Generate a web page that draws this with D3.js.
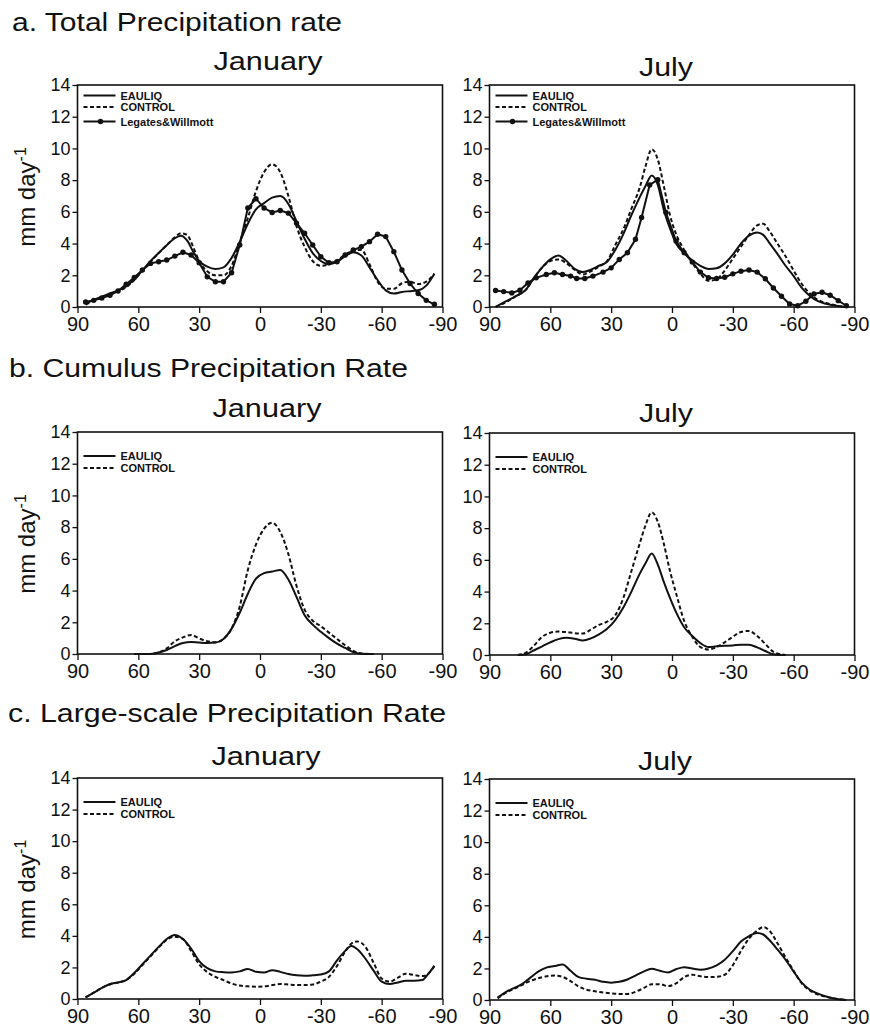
<!DOCTYPE html>
<html>
<head>
<meta charset="utf-8">
<script src="https://cdn.jsdelivr.net/npm/d3@7"></script>
<style>
  body { margin: 0; background: #fff; }
  svg { display: block; }
</style>
</head>
<body>
<svg id="chart" width="870" height="1027"></svg>
<script>
////////////////////////////////////////DATA//////////////////////////////////////////////////
const latTicks = [90, 60, 30, 0, -30, -60, -90];
const rateTicks = [0, 2, 4, 6, 8, 10, 12, 14];
const seriesNames = ["EAULIQ", "CONTROL", "Legates&Willmott"];

// a. total precipitation
const totJanLat = [86, 82, 78, 74, 70, 66, 62, 58, 54, 50, 46, 42, 39, 36, 33, 30, 26, 22, 18, 14, 10, 6, 2,
    -2, -6, -10, -14, -18, -22, -26, -30, -34, -38, -42, -46, -50, -54, -58, -62, -66, -70, -74, -78, -82, -86];
const totJanEauliq = [0.2, 0.45, 0.65, 0.85, 1.05, 1.3, 1.75, 2.3, 2.9, 3.4, 3.9, 4.35, 4.5, 4.2, 3.5, 2.9, 2.55, 2.4, 2.5, 3.1, 4.1, 5.25, 6.15,
    6.55, 6.9, 7.0, 6.5, 5.4, 4.3, 3.4, 2.9, 2.7, 2.85, 3.2, 3.45, 3.25, 2.5, 1.7, 1.05, 0.85, 0.95, 1.0, 1.05, 1.35, 2.1];
const totJanControl = [0.15, 0.4, 0.6, 0.8, 1.0, 1.25, 1.7, 2.3, 2.85, 3.4, 3.9, 4.4, 4.65, 4.55, 3.8, 2.9, 2.25, 2.0, 2.0, 2.6, 4.1, 5.6, 7.3,
    8.5, 9.0, 8.5, 7.0, 5.1, 3.8, 2.9, 2.6, 2.7, 2.95, 3.3, 3.55, 3.6, 2.7, 1.6, 1.15, 1.15, 1.5, 1.6, 1.45, 1.6, 2.1];
const totJanObsLat = [86, 82, 78, 74, 70, 66, 62, 58, 54, 50, 46, 42, 38, 34, 30, 26, 22, 18, 14, 10, 6, 2,
    -2, -6, -10, -14, -18, -22, -26, -30, -34, -38, -42, -46, -50, -54, -58, -62, -66, -70, -74, -78, -82, -86];
const totJanObs = [0.32, 0.42, 0.57, 0.74, 1.01, 1.44, 1.86, 2.33, 2.75, 2.85, 2.96, 3.21, 3.45, 3.28, 2.79, 1.9, 1.59, 1.59, 2.16, 3.91, 6.24, 6.83,
    6.24, 5.96, 6.09, 5.92, 5.29, 4.65, 3.91, 3.17, 2.79, 2.85, 3.28, 3.59, 3.81, 4.12, 4.59, 4.44, 3.49, 2.33, 1.48, 0.85, 0.42, 0.17];

const totJulLat = [87, 82, 77, 72, 68, 64, 60, 56, 52, 48, 44, 40, 36, 32, 28, 24, 20, 16, 13, 10, 7, 4, 1,
    -2, -6, -10, -14, -18, -22, -26, -30, -34, -38, -42, -45, -48, -52, -56, -60, -64, -68, -72, -76, -80, -86];
const totJulEauliq = [0, 0.35, 0.68, 1.1, 1.85, 2.5, 3.0, 3.25, 2.9, 2.4, 2.2, 2.35, 2.6, 2.85, 3.6, 4.6, 5.8, 6.9, 7.65, 8.3, 7.7, 6.1, 4.95,
    4.0, 3.4, 2.95, 2.6, 2.4, 2.45, 2.75, 3.3, 4.0, 4.5, 4.7, 4.55, 4.05, 3.35, 2.6, 1.95, 1.2, 0.7, 0.37, 0.2, 0.1, 0];
const totJulControl = [0, 0.3, 0.68, 1.1, 1.85, 2.5, 2.9, 3.0, 2.75, 2.35, 2.05, 2.25, 2.55, 2.9, 3.9, 4.9, 6.2, 7.5, 8.9, 9.95, 9.3, 7.6, 5.8,
    4.6, 3.6, 2.8, 2.1, 1.65, 1.75, 2.3, 3.05, 3.8, 4.55, 5.15, 5.25, 4.8, 4.0, 3.2, 2.3, 1.45, 0.85, 0.45, 0.25, 0.12, 0];
const totJulObsLat = [87, 83, 79, 75, 71, 67, 62, 58, 54, 50, 47, 43, 39, 34, 30, 26, 22, 18, 15, 11, 7, 3,
    -2, -6, -10, -14, -18, -22, -26, -30, -34, -38, -42, -46, -50, -54, -58, -62, -66, -70, -74, -78, -82, -86];
const totJulObs = [1.04, 0.97, 0.89, 1.06, 1.52, 1.84, 2.05, 2.16, 2.05, 1.95, 1.8, 1.8, 1.95, 2.2, 2.47, 3.0, 3.42, 4.27, 5.64, 7.7, 8.03, 5.96,
    4.16, 3.42, 2.83, 2.2, 1.84, 1.8, 1.88, 2.09, 2.26, 2.33, 2.2, 1.78, 1.2, 0.68, 0.19, 0.08, 0.36, 0.82, 0.93, 0.74, 0.4, 0.08];

// b. cumulus precipitation
const cuJanLat = [62, 55, 50, 46, 42, 38, 34, 30, 26, 22, 18, 14, 10, 6, 2,
    -2, -6, -10, -14, -18, -22, -26, -30, -34, -38, -42, -46, -50, -56];
const cuJanEauliq = [0, 0, 0.1, 0.25, 0.5, 0.7, 0.75, 0.72, 0.7, 0.72, 0.95, 1.6, 2.6, 3.8, 4.75,
    5.1, 5.2, 5.3, 4.7, 3.6, 2.45, 1.85, 1.4, 1.0, 0.65, 0.38, 0.12, 0.02, 0];
const cuJanControl = [0, 0, 0.1, 0.35, 0.8, 1.05, 1.2, 0.98, 0.8, 0.74, 0.95, 1.6, 3.0, 5.3, 6.9,
    7.9, 8.28, 7.7, 6.3, 4.3, 2.8, 2.1, 1.75, 1.35, 0.95, 0.55, 0.2, 0.03, 0];

const cuJulLat = [76, 72, 68, 64, 60, 56, 52, 48, 44, 40, 36, 32, 28, 24, 20, 16, 13, 10, 7, 4, 1,
    -2, -6, -10, -14, -18, -22, -26, -30, -34, -38, -42, -46, -50, -56];
const cuJulEauliq = [0, 0.05, 0.3, 0.55, 0.8, 1.0, 1.08, 1.02, 0.92, 1.05, 1.3, 1.65, 2.2, 3.0, 4.0, 5.1, 5.8, 6.4, 5.7, 4.6, 3.6,
    2.7, 1.75, 1.2, 0.75, 0.5, 0.55, 0.58, 0.6, 0.65, 0.65, 0.48, 0.25, 0.05, 0];
const cuJulControl = [0, 0.15, 0.6, 1.15, 1.4, 1.48, 1.45, 1.38, 1.35, 1.6, 1.9, 2.1, 2.5, 3.6, 5.3, 7.0, 8.2, 9.0, 8.4, 7.0, 5.3,
    3.9, 2.15, 1.15, 0.5, 0.35, 0.5, 0.8, 1.15, 1.45, 1.52, 1.2, 0.7, 0.2, 0];

// c. large-scale precipitation
const lsJanLat = [86, 82, 78, 74, 70, 66, 62, 58, 54, 50, 46, 42, 38, 34, 30, 26, 22, 18, 14, 10, 6, 2,
    -2, -6, -10, -14, -18, -22, -26, -30, -34, -38, -42, -45, -48, -52, -56, -60, -64, -68, -72, -76, -80, -83, -86];
const lsJanEauliq = [0.1, 0.4, 0.7, 0.95, 1.05, 1.2, 1.65, 2.2, 2.75, 3.3, 3.8, 4.06, 3.8, 3.2, 2.4, 1.95, 1.75, 1.7, 1.68, 1.75, 1.9, 1.72,
    1.68, 1.82, 1.72, 1.58, 1.5, 1.47, 1.5, 1.55, 1.75, 2.45, 3.05, 3.35, 3.15, 2.55, 1.8, 1.1, 0.95, 1.05, 1.15, 1.15, 1.2, 1.6, 2.1];
const lsJanControl = [0.1, 0.4, 0.7, 0.92, 1.05, 1.2, 1.6, 2.15, 2.7, 3.25, 3.75, 3.95, 3.8, 3.05, 2.2, 1.7, 1.4, 1.2, 0.98, 0.85, 0.8, 0.78,
    0.8, 0.88, 0.95, 0.92, 0.88, 0.88, 0.92, 1.1, 1.4, 2.1, 3.0, 3.5, 3.65, 3.3, 2.3, 1.3, 1.1, 1.35, 1.6, 1.52, 1.45, 1.6, 2.1];

const lsJulLat = [86, 82, 78, 74, 70, 66, 62, 58, 54, 50, 46, 42, 38, 34, 30, 26, 22, 18, 14, 10, 6, 2,
    -2, -6, -10, -14, -18, -22, -26, -30, -34, -38, -42, -45, -48, -52, -56, -60, -64, -68, -72, -76, -80, -86];
const lsJulEauliq = [0.15, 0.5, 0.75, 1.0, 1.4, 1.8, 2.05, 2.15, 2.25, 1.85, 1.45, 1.35, 1.28, 1.15, 1.1, 1.15, 1.3, 1.55, 1.8, 1.98, 1.85, 1.75,
    1.95, 2.08, 2.0, 1.92, 2.0, 2.2, 2.55, 3.1, 3.7, 4.05, 4.25, 4.15, 3.8, 3.2, 2.55, 1.8, 1.1, 0.65, 0.4, 0.22, 0.1, 0];
const lsJulControl = [0.1, 0.45, 0.7, 0.95, 1.2, 1.38, 1.5, 1.55, 1.47, 1.2, 0.85, 0.65, 0.55, 0.48, 0.42, 0.38, 0.38, 0.52, 0.75, 1.0, 1.0, 0.88,
    1.05, 1.45, 1.6, 1.5, 1.45, 1.47, 1.6, 2.2, 3.1, 3.9, 4.4, 4.62, 4.4, 3.6, 2.7, 1.85, 1.05, 0.6, 0.35, 0.2, 0.1, 0];

////////////////////////////////////////LAYOUT//////////////////////////////////////////////////
const fontFam = '"Liberation Sans", Arial, Helvetica, sans-serif';
const ink = "#111";
const janX = [77.5, 442.5];
const julX = [489.5, 854.5];

const svg = d3.select("#chart");

// section headings (the scanned lettering is wider than the font, so stretch it)
const headings = [
    { text: "a. Total Precipitation rate", x: 12, y: 31, len: 330 },
    { text: "b. Cumulus Precipitation Rate", x: 9, y: 377, len: 399 },
    { text: "c. Large-scale Precipitation Rate", x: 8, y: 722, len: 438 }
];
svg.selectAll(".heading")
    .data(headings)
    .enter()
    .append("text")
    .attr("class", "heading")
    .attr("x", d => d.x)
    .attr("y", d => d.y)
    .attr("textLength", d => d.len)
    .attr("lengthAdjust", "spacingAndGlyphs")
    .attr("font-family", fontFam)
    .attr("font-size", 25)
    .attr("fill", ink)
    .text(d => d.text);

const panels = [
    { month: "January", xr: janX, top: 85, bottom: 307, titleX: 268, titleY: 70, lat: totJanLat, eau: totJanEauliq, ctl: totJanControl, obsLat: totJanObsLat, obs: totJanObs, yLabel: true, legTop: 10.5 },
    { month: "July", xr: julX, top: 85, bottom: 307, titleX: 666, titleY: 76, lat: totJulLat, eau: totJulEauliq, ctl: totJulControl, obsLat: totJulObsLat, obs: totJulObs, yLabel: false, legTop: 10.5 },
    { month: "January", xr: janX, top: 432, bottom: 654, titleX: 267, titleY: 417, lat: cuJanLat, eau: cuJanEauliq, ctl: cuJanControl, yLabel: true, legTop: 24 },
    { month: "July", xr: julX, top: 433, bottom: 655, titleX: 666, titleY: 422, lat: cuJulLat, eau: cuJulEauliq, ctl: cuJulControl, yLabel: false, legTop: 24 },
    { month: "January", xr: janX, top: 778, bottom: 999, titleX: 266, titleY: 765, lat: lsJanLat, eau: lsJanEauliq, ctl: lsJanControl, yLabel: true, legTop: 24 },
    { month: "July", xr: julX, top: 779, bottom: 1000, titleX: 665, titleY: 770, lat: lsJulLat, eau: lsJulEauliq, ctl: lsJulControl, yLabel: false, legTop: 24 }
];

panels.forEach(drawPanel);

function drawPanel(p) {
    const x = d3.scaleLinear()
        .domain([90, -90])
        .range(p.xr);

    const y = d3.scaleLinear()
        .domain([0, 14])
        .range([p.bottom, p.top]);

    const g = svg.append("g");

    // month title
    g.append("text")
        .attr("x", p.titleX)
        .attr("y", p.titleY)
        .attr("text-anchor", "middle")
        .attr("textLength", p.month === "July" ? 54 : 109)
        .attr("lengthAdjust", "spacingAndGlyphs")
        .attr("font-family", fontFam)
        .attr("font-size", 25.5)
        .attr("fill", ink)
        .text(p.month);

    // Y axis
    const yAxis = g.append("g")
        .attr("transform", `translate(${p.xr[0]},0)`)
        .call(d3.axisLeft(y).tickValues(rateTicks).tickSize(5).tickPadding(2).tickFormat(d => String(d)));
    yAxis.select(".domain").remove();
    yAxis.attr("font-family", fontFam).attr("font-size", 18);
    yAxis.selectAll("line").attr("stroke", ink).attr("stroke-width", 1.3);
    yAxis.selectAll("text").attr("fill", ink);

    // X axis
    const xAxis = g.append("g")
        .attr("transform", `translate(0,${p.bottom})`)
        .call(d3.axisBottom(x).tickValues(latTicks).tickSize(6).tickPadding(4).tickFormat(d => String(d)));
    xAxis.select(".domain").remove();
    xAxis.attr("font-family", fontFam).attr("font-size", 20);
    xAxis.selectAll("line").attr("stroke", ink).attr("stroke-width", 1.3);
    xAxis.selectAll("text").attr("fill", ink);

    // frame
    g.append("rect")
        .attr("x", p.xr[0])
        .attr("y", p.top)
        .attr("width", p.xr[1] - p.xr[0])
        .attr("height", p.bottom - p.top)
        .attr("fill", "none")
        .attr("stroke", ink)
        .attr("stroke-width", 1.6);

    // y label only on the left column
    if (p.yLabel) {
        const lbl = g.append("text")
            .attr("transform", `translate(35,${(p.top + p.bottom) / 2 + 1}) rotate(-90)`)
            .attr("text-anchor", "middle")
            .attr("font-family", fontFam)
            .attr("font-size", 24)
            .attr("fill", ink);
        lbl.append("tspan").text("mm day");
        lbl.append("tspan").attr("dy", -9).attr("font-size", 16).text("-1");
    }

    const line = d3.line()
        .x(d => x(d[0]))
        .y(d => y(d[1]))
        .curve(d3.curveMonotoneX);

    // CONTROL (dashed)
    g.append("path")
        .datum(d3.zip(p.lat, p.ctl))
        .attr("fill", "none")
        .attr("stroke", ink)
        .attr("stroke-width", 2)
        .attr("stroke-dasharray", "4,2.5")
        .attr("d", line);

    // EAULIQ (solid)
    g.append("path")
        .datum(d3.zip(p.lat, p.eau))
        .attr("fill", "none")
        .attr("stroke", ink)
        .attr("stroke-width", 2)
        .attr("d", line);

    // Legates & Willmott observations (line with dots)
    if (p.obs) {
        const obsData = d3.zip(p.obsLat, p.obs);
        g.append("path")
            .datum(obsData)
            .attr("fill", "none")
            .attr("stroke", ink)
            .attr("stroke-width", 2)
            .attr("d", d3.line().x(d => x(d[0])).y(d => y(d[1])));
        g.selectAll(".obs")
            .data(obsData)
            .enter()
            .append("circle")
            .attr("class", "obs")
            .attr("cx", d => x(d[0]))
            .attr("cy", d => y(d[1]))
            .attr("r", 2.7)
            .attr("fill", ink);
    }

    // legend
    const names = p.obs ? seriesNames : seriesNames.slice(0, 2);
    const rowY = p.obs ? [0, 11.5, 26] : [0, 12];
    const lx = p.xr[0] + 6;
    const leg = g.append("g")
        .attr("transform", `translate(${lx},${p.top + p.legTop})`);

    names.forEach((name, i) => {
        const ry = rowY[i];
        const sample = leg.append("line")
            .attr("x1", 0)
            .attr("x2", 32)
            .attr("y1", ry)
            .attr("y2", ry)
            .attr("stroke", ink)
            .attr("stroke-width", 2);
        if (name === "CONTROL") sample.attr("stroke-dasharray", "4,2.5");
        if (name === "Legates&Willmott") {
            leg.append("circle")
                .attr("cx", 17)
                .attr("cy", ry)
                .attr("r", 2.7)
                .attr("fill", ink);
        }
        leg.append("text")
            .attr("x", 37)
            .attr("y", ry + 4)
            .attr("font-family", fontFam)
            .attr("font-size", 11)
            .attr("font-weight", "bold")
            .attr("fill", ink)
            .text(name);
    });
}
</script>
</body>
</html>
